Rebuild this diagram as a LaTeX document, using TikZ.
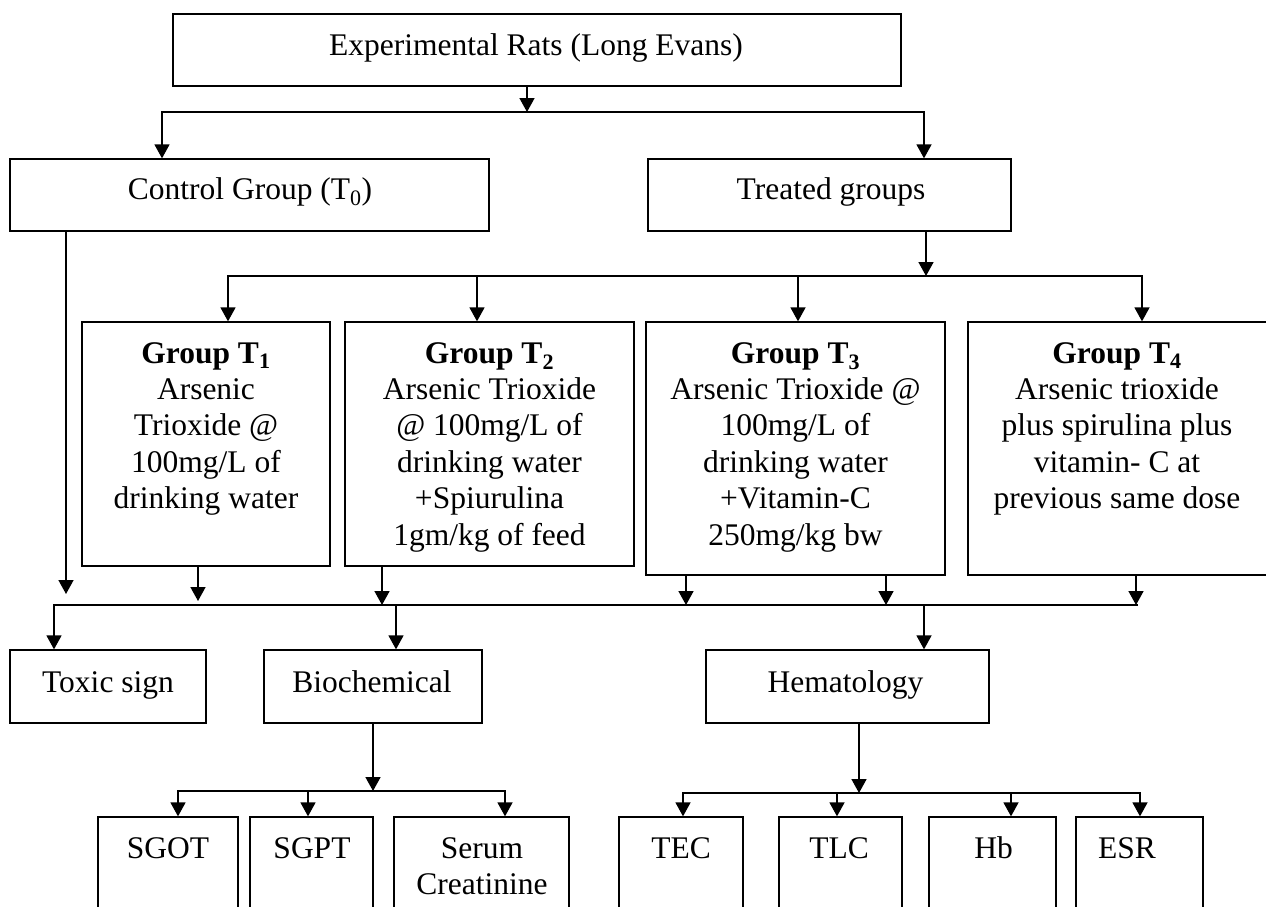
\documentclass[tikz,border=0pt]{standalone}
\usepackage{fontspec}
\setmainfont{Liberation Serif}
\usetikzlibrary{arrows.meta}
\begin{document}
\begin{tikzpicture}[x=1pt,y=-1pt,
  box/.style={draw, line width=1.3pt, inner sep=0pt, rectangle},
  lbl/.style={anchor=base, align=center, inner sep=0pt, font=\fontsize{31.5pt}{36.4pt}\selectfont},
  arr/.style={line width=1.6pt, -{Triangle[width=15pt,length=14pt]}},
  bus/.style={line width=1.5pt}]
\useasboundingbox (0,0) rectangle (1266,907);
\clip (0,0) rectangle (1266,907);
\fill[white] (0,0) rectangle (1266,907);

% level 0
\node[box, minimum width=728pt, minimum height=72pt] (top) at (537,50) {};
\node[lbl] (topT) at (536,56) {Experimental Rats (Long Evans)};

% level 1
\node[box, minimum width=479pt, minimum height=72pt] (ctrl) at (249.5,195) {};
\node[lbl] (ctrlT) at (250,199) {Control Group (T\textsubscript{0})};
\node[box, minimum width=363pt, minimum height=72pt] (treat) at (829.5,195) {};
\node[lbl] (treatT) at (831,199) {Treated groups};

% level 2 (base anchor = baseline of last line)
\node[box, minimum width=248pt, minimum height=244pt] (t1) at (206,444) {};
\node[lbl] (t1T) at (206,508.6) {\textbf{Group T\textsubscript{1}}\\Arsenic\\Trioxide @\\100mg/L of\\drinking water};
\node[box, minimum width=289pt, minimum height=244pt] (t2) at (489.5,444) {};
\node[lbl] (t2T) at (489.5,545) {\textbf{Group T\textsubscript{2}}\\Arsenic Trioxide\\@ 100mg/L of\\drinking water\\+Spiurulina\\1gm/kg of feed};
\node[box, minimum width=299pt, minimum height=253pt] (t3) at (795.5,448.5) {};
\node[lbl] (t3T) at (795.5,545) {\textbf{Group T\textsubscript{3}}\\Arsenic Trioxide @\\100mg/L of\\drinking water\\+Vitamin-C\\250mg/kg bw};
\node[box, minimum width=300pt, minimum height=253pt] (t4) at (1118,448.5) {};
\node[lbl] (t4T) at (1117,508.6) {\textbf{Group T\textsubscript{4}}\\Arsenic trioxide\\plus spirulina plus\\vitamin- C at\\previous same dose};

% level 3
\node[box, minimum width=196pt, minimum height=73pt] (toxic) at (108,686.5) {};
\node[lbl] (toxicT) at (108,692) {Toxic sign};
\node[box, minimum width=218pt, minimum height=73pt] (bio) at (373,686.5) {};
\node[lbl] (bioT) at (372,692) {Biochemical};
\node[box, minimum width=283pt, minimum height=73pt] (hema) at (847.5,686.5) {};
\node[lbl] (hemaT) at (845.5,692) {Hematology};

% level 4
\node[box, minimum width=140pt, minimum height=123pt] (sgot) at (168,878.5) {};
\node[lbl] (sgotT) at (168,858) {SGOT};
\node[box, minimum width=123pt, minimum height=123pt] (sgpt) at (311.5,878.5) {};
\node[lbl] (sgptT) at (312,858) {SGPT};
\node[box, minimum width=175pt, minimum height=123pt] (serum) at (481.5,878.5) {};
\node[lbl] (serumT) at (482,894.4) {Serum\\Creatinine};
\node[box, minimum width=124pt, minimum height=123pt] (tec) at (681,878.5) {};
\node[lbl] (tecT) at (681,858) {TEC};
\node[box, minimum width=123pt, minimum height=123pt] (tlc) at (840.5,878.5) {};
\node[lbl] (tlcT) at (839,858) {TLC};
\node[box, minimum width=127pt, minimum height=123pt] (hb) at (992.5,878.5) {};
\node[lbl] (hbT) at (993.5,858) {Hb};
\node[box, minimum width=127pt, minimum height=123pt] (esr) at (1139.5,878.5) {};
\node[lbl] (esrT) at (1127,858) {ESR};

% bus 0
\coordinate (j0) at (527,112);
\coordinate (j0L) at (162,112);
\coordinate (j0R) at (924,112);
\draw[arr] (top.south -| j0) -- (j0);
\draw[arr] (j0R) -- (j0L) -- (j0L |- ctrl.north);
\draw[arr] (j0L) -- (j0R) -- (j0R |- treat.north);

% bus 1
\coordinate (j1) at (926,276);
\coordinate (j1L) at (228,276);
\coordinate (j1a) at (477,276);
\coordinate (j1b) at (798,276);
\coordinate (j1R) at (1142,276);
\draw[arr] (treat.south -| j1) -- (j1);
\draw[arr] (j1R) -- (j1L) -- (j1L |- t1.north);
\draw[arr] (j1L) -- (j1R) -- (j1R |- t4.north);
\draw[arr] (j1a) -- (j1a |- t2.north);
\draw[arr] (j1b) -- (j1b |- t3.north);

% bus 2
\coordinate (c0) at (66,594);
\coordinate (k1) at (198,601);
\coordinate (k2) at (382,605);
\coordinate (k3a) at (686,605);
\coordinate (k3b) at (886,605);
\coordinate (k4) at (1136,605);
\draw[arr] (ctrl.south -| c0) -- (c0);
\draw[arr] (t1.south -| k1) -- (k1);
\draw[arr] (t2.south -| k2) -- (k2);
\draw[arr] (t3.south -| k3a) -- (k3a);
\draw[arr] (t3.south -| k3b) -- (k3b);
\draw[arr] (t4.south -| k4) -- (k4);
\coordinate (j2L) at (54,605);
\coordinate (j2b) at (396,605);
\coordinate (j2h) at (924,605);
\coordinate (j2R) at (1138,605);
\draw[arr] (j2R) -- (j2L) -- (j2L |- toxic.north);
\draw[arr] (j2b) -- (j2b |- bio.north);
\draw[arr] (j2h) -- (j2h |- hema.north);

% bus 3 (biochemical)
\coordinate (j3) at (373,791);
\coordinate (j3L) at (178,791);
\coordinate (j3m) at (308,791);
\coordinate (j3R) at (505,791);
\draw[arr] (bio.south -| j3) -- (j3);
\draw[arr] (j3R) -- (j3L) -- (j3L |- sgot.north);
\draw[arr] (j3L) -- (j3R) -- (j3R |- serum.north);
\draw[arr] (j3m) -- (j3m |- sgpt.north);

% bus 4 (hematology)
\coordinate (j4) at (859,793);
\coordinate (j4L) at (683,793);
\coordinate (j4a) at (837,793);
\coordinate (j4b) at (1011,793);
\coordinate (j4R) at (1140,793);
\draw[arr] (hema.south -| j4) -- (j4);
\draw[arr] (j4R) -- (j4L) -- (j4L |- tec.north);
\draw[arr] (j4L) -- (j4R) -- (j4R |- esr.north);
\draw[arr] (j4a) -- (j4a |- tlc.north);
\draw[arr] (j4b) -- (j4b |- hb.north);
\end{tikzpicture}
\end{document}
